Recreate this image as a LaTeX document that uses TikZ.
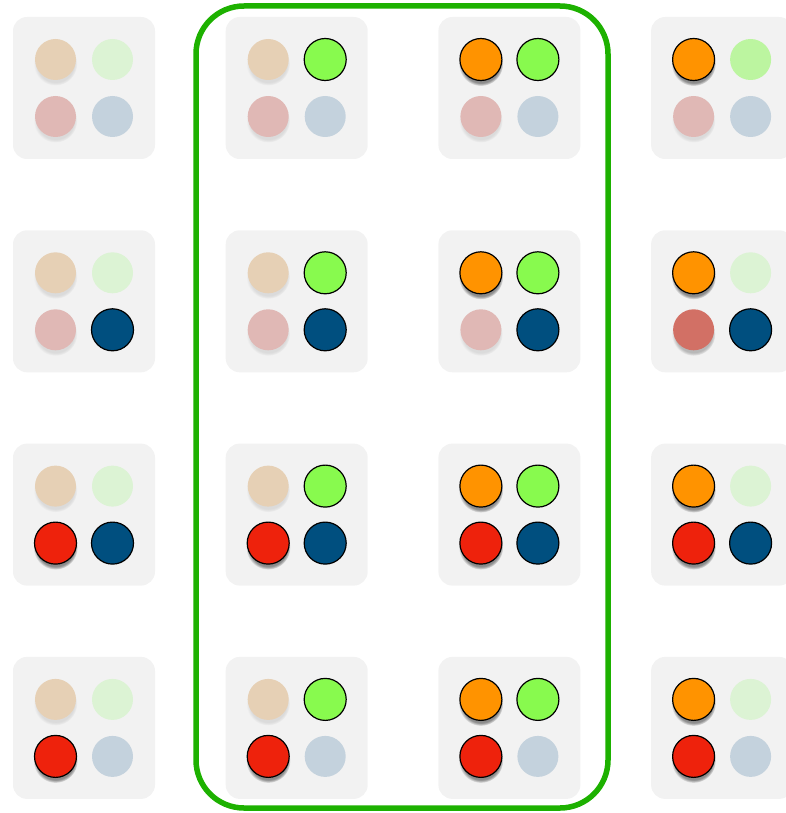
\documentclass[tikz,border=0pt]{standalone}
\usepackage{tikz}
\usetikzlibrary{
  shadows,
  positioning,
  fadings
}
\definecolor{dotOrange}{HTML}{FF9300}
\definecolor{dotGreen}{HTML}{88FA4E}
\definecolor{dotRed}{HTML}{EE220C}
\definecolor{dotBlue}{HTML}{004F7F}
\definecolor{paleOrange}{HTML}{E6D0B5}
\definecolor{paleGreen}{HTML}{DCF3D4}
\definecolor{paleRed}{HTML}{E0B8B5}
\definecolor{paleBlue}{HTML}{C4D2DD}
\definecolor{midGreen}{HTML}{BCF5A0}
\definecolor{midRed}{HTML}{D27065}
\definecolor{cellGrey}{HTML}{F2F2F2}
\definecolor{frameGreen}{HTML}{1DB100}
\tikzset{
  cell/.style={fill=cellGrey, rounded corners=14pt, minimum size=142pt, inner sep=0pt},
  dot/.style={circle, minimum size=42pt, inner sep=0pt},
  dotOn/.style={dot, draw=black, line width=1.2pt},
  dotOff/.style={dot, minimum size=41pt},
  dotshadow/.style={circular drop shadow={shadow xshift=0pt, shadow yshift=-4pt, shadow scale=1.06, opacity=#1}},
  orangeOn/.style={dotOn, fill=dotOrange, dotshadow=0.9},
  orangeOff/.style={dotOff, fill=paleOrange, dotshadow=0.2},
  greenOn/.style={dotOn, fill=dotGreen},
  greenOff/.style={dotOff, fill=paleGreen},
  greenMid/.style={dotOff, fill=midGreen},
  redOn/.style={dotOn, fill=dotRed, dotshadow=0.9},
  redOff/.style={dotOff, fill=paleRed, dotshadow=0.2},
  redMid/.style={dotOff, fill=midRed, dotshadow=0.5},
  blueOn/.style={dotOn, fill=dotBlue},
  blueOff/.style={dotOff, fill=paleBlue},
  groupframe/.style={draw=frameGreen, line width=5.5pt, rounded corners=48pt}
}

\begin{document}
\begin{tikzpicture}[x=1pt, y=-1pt]
  \useasboundingbox (0,0) rectangle (785,813);
  % grid of cells: row / column / the four dots
  \foreach \r/\c/\o/\g/\rd/\b in {
    1/1/orangeOff/greenOff/redOff/blueOff,
    1/2/orangeOff/greenOn/redOff/blueOff,
    1/3/orangeOn/greenOn/redOff/blueOff,
    1/4/orangeOn/greenMid/redOff/blueOff,
    2/1/orangeOff/greenOff/redOff/blueOn,
    2/2/orangeOff/greenOn/redOff/blueOn,
    2/3/orangeOn/greenOn/redOff/blueOn,
    2/4/orangeOn/greenOff/redMid/blueOn,
    3/1/orangeOff/greenOff/redOn/blueOn,
    3/2/orangeOff/greenOn/redOn/blueOn,
    3/3/orangeOn/greenOn/redOn/blueOn,
    3/4/orangeOn/greenOff/redOn/blueOn,
    4/1/orangeOff/greenOff/redOn/blueOff,
    4/2/orangeOff/greenOn/redOn/blueOff,
    4/3/orangeOn/greenOn/redOn/blueOff,
    4/4/orangeOn/greenOff/redOn/blueOff}{
    \node[cell] (cell-\r-\c) at ({84+212.7*(\c-1)},{88+213.3*(\r-1)}) {};
    \node[\o] (cell-\r-\c-o) at ([shift={(-28.5,-28.5)}]cell-\r-\c.center) {};
    \node[\g] (cell-\r-\c-g) at ([shift={(28.5,-28.5)}]cell-\r-\c.center) {};
    \node[\rd] (cell-\r-\c-r) at ([shift={(-28.5,28.5)}]cell-\r-\c.center) {};
    \node[\b] (cell-\r-\c-b) at ([shift={(28.5,28.5)}]cell-\r-\c.center) {};
  }
  % the two middle columns
  \draw[groupframe] (196,6) rectangle (608,808);
\end{tikzpicture}
\end{document}
